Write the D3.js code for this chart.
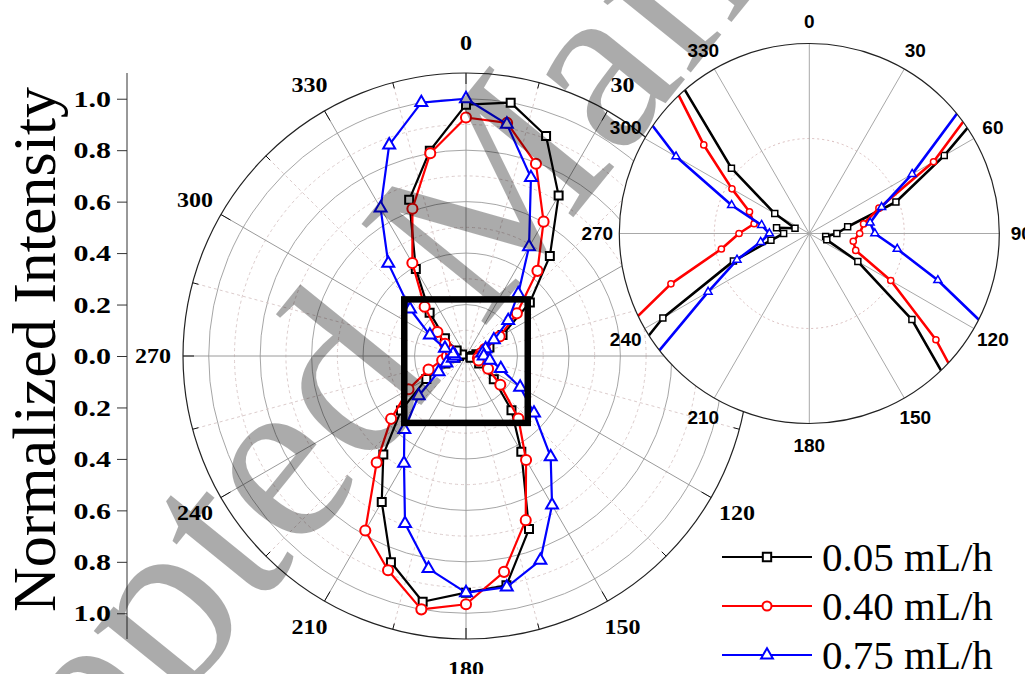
<!DOCTYPE html>
<html><head><meta charset="utf-8">
<script src="https://cdn.jsdelivr.net/npm/d3@7"></script>
<style>body{margin:0;background:#fff}svg{display:block}</style>
</head><body>
<svg id="chart" width="1025" height="674"></svg>
<script>
// Polar angles (degrees, clockwise from top) and normalized intensities
const angles = d3.range(0, 360, 10);
const flow005 = [0.977, 1.0, 0.91, 0.72, 0.507, 0.324, 0.164, 0.097, 0.041, 0.029, 0.0175, 0.0196,
  0.059, 0.141, 0.275, 0.43, 0.716, 0.905, 0.92, 0.97, 0.853, 0.655, 0.50, 0.33,
  0.178, 0.085, 0.041, 0.027, 0.035, 0.016, 0.042, 0.107, 0.22, 0.39, 0.646, 0.81];
const flow040 = [0.927, 0.92, 0.795, 0.603, 0.432, 0.258, 0.151, 0.078, 0.058, 0.053, 0.047, 0.052,
  0.099, 0.174, 0.317, 0.467, 0.679, 0.852, 0.965, 1.0, 0.886, 0.783, 0.54, 0.38,
  0.258, 0.155, 0.094, 0.074, 0.059, 0.067, 0.094, 0.145, 0.25, 0.417, 0.609, 0.80];
const flow075 = [1.0, 0.915, 0.738, 0.49, 0.316, 0.214, 0.125, 0.081, 0.065, 0.069, 0.094, 0.144,
  0.243, 0.345, 0.512, 0.669, 0.845, 0.912, 0.92, 0.839, 0.693, 0.482, 0.373, 0.24,
  0.123, 0.081, 0.052, 0.042, 0.051, 0.087, 0.162, 0.284, 0.47, 0.664, 0.873, 1.0];
const seriesNames = ["0.05 mL/h", "0.40 mL/h", "0.75 mL/h"];
const angleTicks = d3.range(0, 360, 30);
const yTickValues = [-1.0, -0.8, -0.6, -0.4, -0.2, 0.0, 0.2, 0.4, 0.6, 0.8, 1.0];
const watermarkText = "Accepted Manuscript";

const seriesStyle = [
  {color: "#000000", symbol: d3.symbolSquare, mainSize: 64, insetSize: 36, legendSize: 70},
  {color: "#ff0000", symbol: d3.symbolCircle, mainSize: 80, insetSize: 30, legendSize: 64},
  {color: "#0000ff", symbol: d3.symbolTriangle, mainSize: 62, insetSize: 28, legendSize: 60}
];
const series = [flow005, flow040, flow075].map((vals, i) => ({
  name: seriesNames[i],
  style: seriesStyle[i],
  points: angles.map((a, j) => ({angle: a, value: vals[j]}))
}));

const svg = d3.select("#chart");
const rad = d => d * Math.PI / 180;

// ---------- main polar plot ----------
const main = {cx: 466, cy: 356};
const rMain = d3.scaleLinear().domain([0, 1.1]).range([0, 283]);
const gMain = svg.append("g").attr("transform", `translate(${main.cx},${main.cy})`);

// circular grid
d3.range(1, 11).forEach(k => {
  const v = k / 10;
  gMain.append("circle").attr("r", rMain(v)).attr("fill", "none")
    .attr("stroke", k % 2 === 0 ? "#a6a6a6" : "#dccccc")
    .attr("stroke-width", 1)
    .attr("stroke-dasharray", k % 2 === 0 ? null : "3,3");
});
// radial grid
d3.range(0, 360, 15).forEach(a => {
  const major = a % 30 === 0;
  const R = rMain(1.1);
  gMain.append("line")
    .attr("x1", 0).attr("y1", 0)
    .attr("x2", R * Math.sin(rad(a))).attr("y2", -R * Math.cos(rad(a)))
    .attr("stroke", major ? "#9a9a9a" : "#dccccc")
    .attr("stroke-width", 1)
    .attr("stroke-dasharray", major ? null : "3,3");
  const t = major ? 11 : 6;
  gMain.append("line")
    .attr("x1", (R - t) * Math.sin(rad(a))).attr("y1", -(R - t) * Math.cos(rad(a)))
    .attr("x2", R * Math.sin(rad(a))).attr("y2", -R * Math.cos(rad(a)))
    .attr("stroke", "#111").attr("stroke-width", 1);
});
gMain.append("circle").attr("r", rMain(1.1)).attr("fill", "none")
  .attr("stroke", "#222").attr("stroke-width", 1.2);

// angle labels
gMain.selectAll("text.ang").data(angleTicks).join("text")
  .attr("class", "ang")
  .attr("transform", a => `translate(${313 * Math.sin(rad(a))},${-313 * Math.cos(rad(a))}) scale(1.2,1)`)
  .attr("text-anchor", "middle").attr("dy", "0.35em")
  .attr("font-family", "Liberation Serif, Times New Roman, serif")
  .attr("font-weight", "bold").attr("font-size", 20)
  .text(a => a);

const mainLine = d3.lineRadial()
  .angle(d => rad(d.angle)).radius(d => rMain(d.value))
  .curve(d3.curveLinearClosed);

series.forEach(s => {
  gMain.append("path").attr("d", mainLine(s.points))
    .attr("fill", "none").attr("stroke", s.style.color).attr("stroke-width", 2.2)
    .attr("stroke-linejoin", "round");
  gMain.selectAll(null).data(s.points).join("path")
    .attr("transform", d => `translate(${rMain(d.value) * Math.sin(rad(d.angle))},${-rMain(d.value) * Math.cos(rad(d.angle))})`)
    .attr("d", d3.symbol().type(s.style.symbol).size(s.style.mainSize))
    .attr("fill", "#fff").attr("stroke", s.style.color).attr("stroke-width", 2);
});

// zoom box around the origin
gMain.append("rect")
  .attr("x", -rMain(0.24)).attr("y", -rMain(0.22))
  .attr("width", rMain(0.48)).attr("height", rMain(0.48))
  .attr("fill", "none").attr("stroke", "#000").attr("stroke-width", 6.5);

// ---------- Y axis ----------
const yScale = d3.scaleLinear().domain([1.1, -1.1]).range([main.cy - 283, main.cy + 283]);
const yAxisX = 127;
const gY = svg.append("g").attr("transform", `translate(${yAxisX},0)`);
gY.call(d3.axisLeft(yScale).tickValues(d3.range(-11, 12).map(k => k / 10))
  .tickSize(5).tickFormat(""));
gY.call(d3.axisLeft(yScale).tickValues(yTickValues).tickSize(10).tickPadding(6)
  .tickFormat(d => Math.abs(d).toFixed(1)));
gY.selectAll("path.domain").attr("d", `M0,${yScale(1.1)}V${yScale(-1.1)}`).attr("stroke", "#333");
gY.selectAll(".tick line").attr("stroke", "#333");
gY.selectAll("text")
  .attr("font-family", "Liberation Serif, Times New Roman, serif")
  .attr("font-weight", "bold").attr("font-size", 24).attr("fill", "#000")
  .attr("x", -16 / 1.25).attr("transform", "scale(1.25,1)");

svg.append("text")
  .attr("transform", `translate(55,612) rotate(-90)`)
  .attr("font-family", "Liberation Serif, Times New Roman, serif")
  .attr("font-size", 62).attr("fill", "#000")
  .text("Normalized Intensity");

// ---------- inset: close-up of the origin ----------
const inset = {cx: 809.3, cy: 233.5};
const rInset = d3.scaleLinear().domain([0, 0.2]).range([0, 190]);
const gIn = svg.append("g").attr("transform", `translate(${inset.cx},${inset.cy})`);
gIn.append("circle").attr("r", rInset(0.2)).attr("fill", "#fff");
gIn.append("circle").attr("r", rInset(0.1)).attr("fill", "none")
  .attr("stroke", "#d9bcbc").attr("stroke-width", 1).attr("stroke-dasharray", "2,3");
angleTicks.forEach(a => {
  gIn.append("line").attr("x1", 0).attr("y1", 0)
    .attr("x2", rInset(0.2) * Math.sin(rad(a))).attr("y2", -rInset(0.2) * Math.cos(rad(a)))
    .attr("stroke", "#a8a8a8").attr("stroke-width", 1);
});
svg.append("defs").append("clipPath").attr("id", "insetClip")
  .append("circle").attr("r", rInset(0.2));
const gInData = gIn.append("g").attr("clip-path", "url(#insetClip)");
const insetLine = d3.lineRadial()
  .angle(d => rad(d.angle)).radius(d => rInset(d.value))
  .curve(d3.curveLinearClosed);
series.forEach(s => {
  gInData.append("path").attr("d", insetLine(s.points))
    .attr("fill", "none").attr("stroke", s.style.color).attr("stroke-width", 2.6)
    .attr("stroke-linejoin", "round");
  gInData.selectAll(null).data(s.points.filter(d => d.value < 0.2)).join("path")
    .attr("transform", d => `translate(${rInset(d.value) * Math.sin(rad(d.angle))},${-rInset(d.value) * Math.cos(rad(d.angle))})`)
    .attr("d", d3.symbol().type(s.style.symbol).size(s.style.insetSize))
    .attr("fill", "#fff").attr("stroke", s.style.color).attr("stroke-width", 1.5);
});
gIn.append("circle").attr("r", rInset(0.2)).attr("fill", "none")
  .attr("stroke", "#222").attr("stroke-width", 1.2);
gIn.selectAll("text.ang").data(angleTicks).join("text")
  .attr("class", "ang")
  .attr("x", a => 212 * Math.sin(rad(a))).attr("y", a => -212 * Math.cos(rad(a)))
  .attr("text-anchor", "middle").attr("dy", "0.36em")
  .attr("font-family", "Liberation Sans, Arial, sans-serif")
  .attr("font-weight", "bold").attr("font-size", 19)
  .text(a => a);

// ---------- legend ----------
const gLeg = svg.append("g");
series.forEach((s, i) => {
  const y = 557 + i * 49;
  gLeg.append("line").attr("x1", 722).attr("x2", 812).attr("y1", y).attr("y2", y)
    .attr("stroke", s.style.color).attr("stroke-width", 2);
  gLeg.append("path").attr("transform", `translate(767,${y})`)
    .attr("d", d3.symbol().type(s.style.symbol).size(s.style.legendSize))
    .attr("fill", "#fff").attr("stroke", s.style.color).attr("stroke-width", 2);
  gLeg.append("text").attr("x", 822).attr("y", y + 14)
    .attr("font-family", "Liberation Serif, Times New Roman, serif")
    .attr("font-size", 41).attr("fill", "#000")
    .text(s.name);
});

// ---------- watermark ----------
svg.append("text")
  .attr("transform", "translate(-139,1097) rotate(-51)")
  .attr("font-family", "Liberation Serif, Times New Roman, serif")
  .attr("font-size", 245).attr("fill", "#000").attr("fill-opacity", 0.33)
  .text(watermarkText);
</script>
</body></html>
